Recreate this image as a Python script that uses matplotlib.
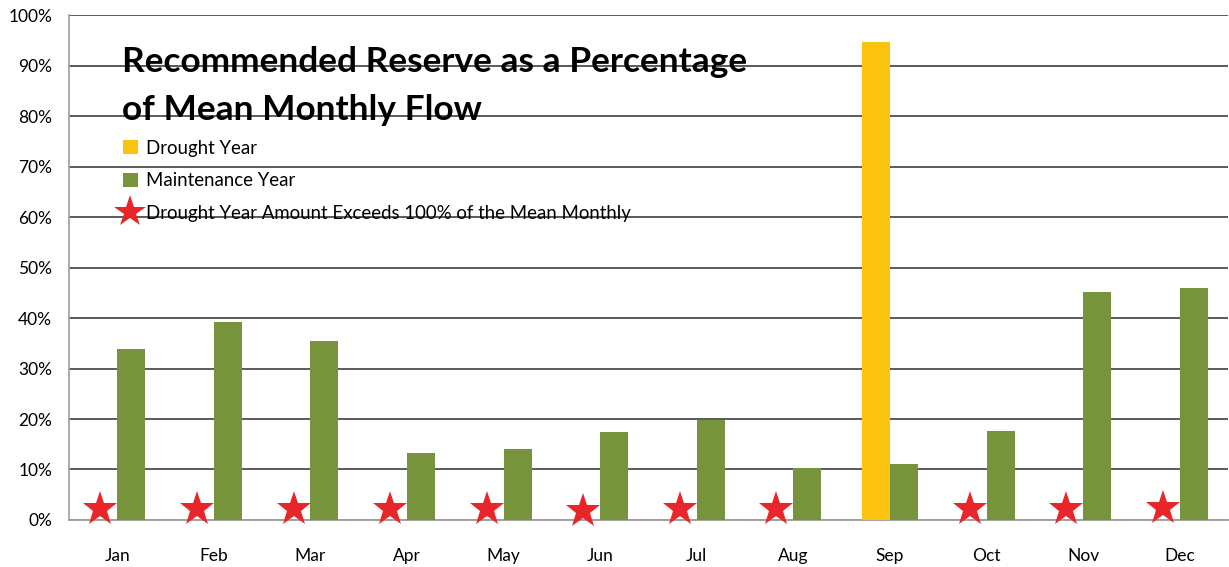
import numpy as np
import matplotlib
matplotlib.use('Agg')
import matplotlib.pyplot as plt
from matplotlib.lines import Line2D
from matplotlib.patches import Patch

plt.rcParams['font.family'] = ['Lato', 'DejaVu Sans']

months = ['Jan', 'Feb', 'Mar', 'Apr', 'May', 'Jun', 'Jul', 'Aug', 'Sep', 'Oct', 'Nov', 'Dec']
drought = [0, 0, 0, 0, 0, 0, 0, 0, 94.7, 0, 0, 0]
maintenance = [33.9, 39.3, 35.5, 13.3, 14.1, 17.4, 19.8, 10.3, 11.1, 17.6, 45.2, 46.0]
# star marks where drought year amount exceeds 100% of the mean monthly flow
exceeds = [2.2, 2.2, 2.1, 2.1, 2.2, 1.8, 2.2, 2.2, np.nan, 2.1, 2.1, 2.3]

yellow = '#FBC20F'
green = '#77933C'
red = '#E8262A'

fig = plt.figure(figsize=(12.29, 5.67), dpi=100)
ax = fig.add_axes([0.0561, 0.0829, 0.9431, 0.8906])

x = np.arange(len(months))
w = 0.29
d = np.array(drought)
ax.bar(x[d > 0] - w / 2, d[d > 0], width=w, color=yellow, zorder=3)
ax.bar(x + w / 2, maintenance, width=w, color=green, zorder=3)
ax.plot(x - w / 2 - 0.03, exceeds, linestyle='none', marker='*', markersize=26,
        color=red, markeredgewidth=0, zorder=4, clip_on=False)

ax.set_xlim(-0.5, 11.5)
ax.set_ylim(0, 100)
ax.set_yticks(np.arange(0, 101, 10))
ax.set_yticklabels([f'{v}%' for v in range(0, 101, 10)])
ax.set_xticks(x)
ax.set_xticklabels(months)
ax.tick_params(axis='both', length=0, labelsize=12.5, colors='black')
ax.tick_params(axis='x', pad=20)
ax.tick_params(axis='y', pad=12)

ax.grid(axis='y', color='#5a5a5a', linewidth=1.4, zorder=0)
for side in ['top', 'right']:
    ax.spines[side].set_visible(False)
ax.spines['left'].set_color('#a0a0a0')
ax.spines['bottom'].set_color('#a0a0a0')
ax.spines['left'].set_linewidth(1.2)
ax.spines['bottom'].set_linewidth(1.4)

ax.text(0.0457, 0.907, 'Recommended Reserve as a Percentage', transform=ax.transAxes,
        fontsize=25.4, fontweight='bold', va='center', ha='left', zorder=5)
ax.text(0.0457, 0.812, 'of Mean Monthly Flow', transform=ax.transAxes,
        fontsize=25.4, fontweight='bold', va='center', ha='left', zorder=5)

handles = [
    Patch(facecolor=yellow, edgecolor='none', label='Drought Year'),
    Patch(facecolor=green, edgecolor='none', label='Maintenance Year'),
    Line2D([], [], linestyle='none', marker='*', markersize=24, color=red,
           markeredgewidth=0, label='Drought Year Amount Exceeds 100% of the Mean Monthly'),
]
leg = ax.legend(handles=handles, loc='upper left', bbox_to_anchor=(0.04, 0.768),
                frameon=False, fontsize=13.4, handlelength=0.8, handleheight=0.8,
                handletextpad=0.45, labelspacing=0.85, borderaxespad=0)
leg.set_zorder(5)

fig.savefig('out.png', dpi=100)
